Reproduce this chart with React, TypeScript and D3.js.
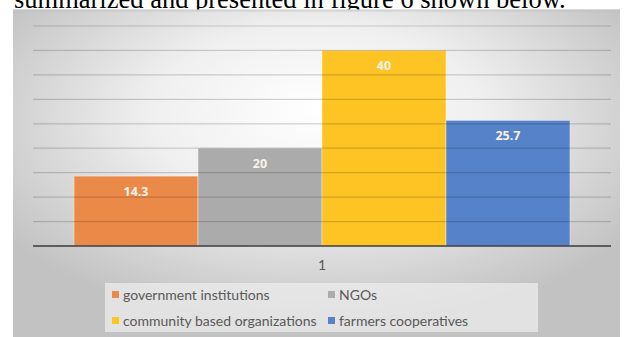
import React from "react";
import * as d3 from "d3";

const categories = ["1"];
const seriesNames = [
  "government institutions",
  "NGOs",
  "community based organizations",
  "farmers cooperatives",
];
const seriesValues = [14.3, 20, 40, 25.7];
const seriesLabels = ["14.3", "20", "40", "25.7"];
const seriesColors = ["#ea8948", "#ababab", "#fdc423", "#5682c9"];
const yTicks = [0, 5, 10, 15, 20, 25, 30, 35, 40, 45];
const headerText = "summarized and presented in figure 6 shown below.";

const W = 629;
const H = 337;

export default function App() {
  const plotL = 33;
  const plotR = 611;
  const y = d3.scaleLinear().domain([0, 45]).range([246, 26]);
  const x0 = d3
    .scaleBand<string>()
    .domain(categories)
    .range([plotL, plotR])
    .paddingInner(0)
    .paddingOuter(0.0827);
  const x1 = d3
    .scaleBand<string>()
    .domain(seriesNames)
    .range([0, x0.bandwidth()])
    .padding(0);

  const legendRows = [
    [0, 1],
    [2, 3],
  ];
  const legendColX = [112, 328];
  const legendRowY = [295, 321];

  return (
    <svg
      width={W}
      height={H}
      style={{ position: "absolute", left: 0, top: 0, background: "#fff" }}
    >
      <defs>
        <radialGradient id="bg" cx="50%" cy="35%" r="62%" fx="50%" fy="30%">
          <stop offset="0%" stopColor="#ffffff" />
          <stop offset="45%" stopColor="#efefef" />
          <stop offset="100%" stopColor="#c2c2c2" />
        </radialGradient>
      </defs>
      <text
        x={14}
        y={8}
        fontFamily="'Liberation Serif', 'Times New Roman', serif"
        fontSize={26.5}
        fill="#000"
      >
        {headerText}
      </text>
      <rect x={13} y={9.5} width={607} height={H - 9.5} fill="url(#bg)" />
      <rect x={13} y={9.5} width={607} height={2} fill="#bdbdbd" opacity={0.5} />
      {/* bars */}
      {categories.map((c) => (
        <g key={c} transform={`translate(${x0(c)},0)`}>
          {seriesNames.map((s, i) => (
            <rect
              key={s}
              x={x1(s)}
              y={y(seriesValues[i])}
              width={x1.bandwidth()}
              height={y(0) - y(seriesValues[i])}
              fill={seriesColors[i]}
              stroke="#f2f2f2"
              strokeOpacity={0.6}
              strokeWidth={0.8}
            />
          ))}
        </g>
      ))}
      {/* gridlines */}
      {yTicks.slice(1).map((t) => (
        <line
          key={t}
          x1={plotL}
          x2={plotR}
          y1={y(t)}
          y2={y(t)}
          stroke="#000"
          strokeOpacity={0.17}
          strokeWidth={1.2}
        />
      ))}
      <line
        x1={plotL}
        x2={plotR}
        y1={y(0)}
        y2={y(0)}
        stroke="#3a3a3a"
        strokeWidth={1.6}
      />
      {/* data labels */}
      {categories.map((c) =>
        seriesNames.map((s, i) => (
          <text
            key={s}
            x={(x0(c) ?? 0) + (x1(s) ?? 0) + x1.bandwidth() / 2}
            y={y(seriesValues[i]) + 19.5}
            textAnchor="middle"
            fontFamily="'Open Sans', 'DejaVu Sans', sans-serif"
            fontWeight="bold"
            fontSize={12.5}
            fill="#f7f3ea"
          >
            {seriesLabels[i]}
          </text>
        ))
      )}
      {/* category label */}
      {categories.map((c) => (
        <text
          key={c}
          x={(x0(c) ?? 0) + x0.bandwidth() / 2}
          y={270}
          textAnchor="middle"
          fontFamily="Lato, 'Open Sans', sans-serif"
          fontSize={14}
          fill="#595959"
        >
          {c}
        </text>
      ))}
      {/* legend */}
      <rect x={105} y={283} width={433} height={49} fill="#ececec" opacity={0.75} />
      {legendRows.map((row, ri) =>
        row.map((si, ci) => (
          <g key={si}>
            <rect
              x={legendColX[ci]}
              y={legendRowY[ri] - 4}
              width={7}
              height={7}
              fill={seriesColors[si]}
            />
            <text
              x={legendColX[ci] + 11}
              y={legendRowY[ri] + 5}
              fontFamily="Lato, 'Open Sans', sans-serif"
              fontSize={14}
              fill="#595959"
            >
              {seriesNames[si]}
            </text>
          </g>
        ))
      )}
    </svg>
  );
}
